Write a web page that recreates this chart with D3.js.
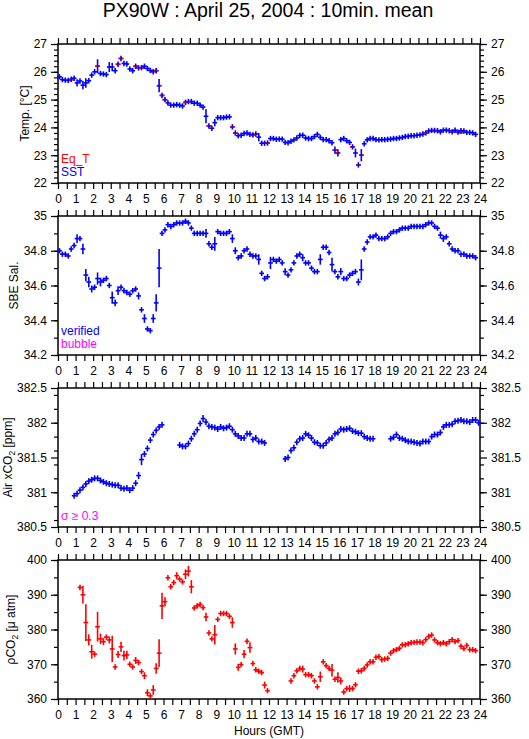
<!DOCTYPE html>
<html>
<head>
<meta charset="utf-8">
<script src="https://cdn.jsdelivr.net/npm/d3@7"></script>
<style>
  body { margin: 0; background: #fff; }
  svg { display: block; font-family: "Liberation Sans", Arial, Helvetica, sans-serif; }
  .tick text { font-size: 12px; fill: #000; }
  .tick line { stroke: #000; stroke-width: 1.2; }
  .domain { display: none; }
</style>
</head>
<body>
<div id="chart"></div>
<script>
// 10 minute means: slot i covers minutes i*10 .. i*10+10 of the day (GMT)
var hourTicks = [0, 1, 2, 3, 4, 5, 6, 7, 8, 9, 10, 11, 12, 13, 14, 15, 16, 17, 18, 19, 20, 21, 22, 23, 24];

var tempTicks = [22, 23, 24, 25, 26, 27];
var salTicks = [34.2, 34.4, 34.6, 34.8, 35];
var airTicks = [380.5, 381, 381.5, 382, 382.5];
var pco2Ticks = [360, 370, 380, 390, 400];

// SST, one value per slot
var sst = [
  25.82, 25.72, 25.70, 25.69, 25.73, 25.77,
  25.60, 25.67, 25.52, 25.60, 25.68, 25.88,
  26.00, 26.20, 25.94, 25.92, 25.90, 26.17,
  26.17, 26.04, 26.27, 26.48, 26.30, 26.28,
  26.10, 26.04, 26.20, 26.14, 26.15, 26.20,
  26.12, 26.05, 26.00, 26.04, 25.50, 25.15,
  25.00, 24.88, 24.80, 24.80, 24.82, 24.80,
  24.77, 24.90, 24.93, 24.93, 24.87, 24.87,
  24.80, 24.73, 24.40, 24.05, 23.97, 24.17,
  24.35, 24.35, 24.35, 24.37, 24.38, 24.02,
  23.80, 23.70, 23.72, 23.78, 23.80, 23.75,
  23.73, 23.76, 23.65, 23.43, 23.43, 23.44,
  23.60, 23.60, 23.57, 23.58, 23.58, 23.46,
  23.45, 23.50, 23.55, 23.62, 23.71, 23.72,
  23.62, 23.60, 23.60, 23.67, 23.75, 23.64,
  23.56, 23.56, 23.52, 23.45, 23.18, 23.08,
  23.56, 23.60, 23.52, 23.46, 23.30, 23.08,
  22.65, 23.00, 23.41, 23.55, 23.60, 23.60,
  23.56, 23.55, 23.56, 23.56, 23.57, 23.58,
  23.60, 23.60, 23.62, 23.64, 23.67, 23.68,
  23.70, 23.70, 23.72, 23.73, 23.76, 23.80,
  23.87, 23.89, 23.89, 23.88, 23.84, 23.90,
  23.90, 23.88, 23.84, 23.90, 23.83, 23.88,
  23.87, 23.82, 23.82, 23.80, 23.75, null
];
// [slot, standard deviation] where the bar is taller than the marker
var sstSpread = [
  [6, 0.13], [8, 0.15], [9, 0.17], [12, 0.1], [13, 0.25], [17, 0.18], [18, 0.15],
  [21, 0.08], [22, 0.08], [34, 0.24], [35, 0.1], [50, 0.25], [53, 0.13], [68, 0.15],
  [94, 0.13], [95, 0.13], [101, 0.16], [102, 0.08], [103, 0.22]
];
// equilibrator temperature, where it shows apart from SST: [slot, value]
var eqT = [
  [4, 25.71], [13, 26.20], [20, 26.27], [21, 26.48], [26, 26.19], [27, 26.14],
  [28, 26.14], [33, 26.04], [34, 25.50], [35, 25.15], [36, 24.99], [43, 24.90],
  [44, 24.92], [51, 24.05], [59, 24.02], [60, 23.80], [67, 23.76], [71, 23.44],
  [94, 23.18], [95, 23.07], [100, 23.30], [102, 22.64], [103, 23.00], [125, 23.80],
  [128, 23.87], [134, 23.84], [137, 23.80]
];

var salinity = [
  34.80, 34.78, 34.78, 34.77, 34.81, 34.83,
  34.87, 34.87, 34.81, 34.66, 34.62, 34.58,
  34.59, 34.64, 34.62, 34.63, 34.64, 34.60,
  34.53, 34.50, 34.57, 34.59, 34.57, 34.56,
  34.55, 34.57, 34.58, 34.54, 34.46, 34.41,
  34.35, 34.34, 34.41, 34.50, 34.70, 34.90,
  34.92, 34.95, 34.94, 34.95, 34.96, 34.96,
  34.96, 34.97, 34.96, 34.93, 34.90, 34.90,
  34.90, 34.90, 34.90, 34.84, 34.82, 34.84,
  34.91, 34.90, 34.90, 34.90, 34.91, 34.87,
  34.80, 34.76, 34.77, 34.80, 34.81, 34.78,
  34.77, 34.77, 34.75, 34.67, 34.64, 34.65,
  34.73, 34.75, 34.74, 34.75, 34.73, 34.68,
  34.66, 34.69, 34.73, 34.77, 34.78, 34.76,
  34.73, 34.73, 34.70, 34.68, 34.68, 34.75,
  34.82, 34.82, 34.79, 34.72, 34.68, 34.65,
  34.68, 34.64, 34.64, 34.66, 34.67, 34.68,
  34.62, 34.69, 34.81, 34.85, 34.88, 34.88,
  34.89, 34.87, 34.87, 34.87, 34.88, 34.90,
  34.91, 34.91, 34.92, 34.93, 34.93, 34.93,
  34.94, 34.94, 34.94, 34.94, 34.94, 34.95,
  34.96, 34.96, 34.94, 34.93, 34.89, 34.87,
  34.88, 34.84, 34.81, 34.80, 34.80, 34.78,
  34.78, 34.77, 34.77, 34.77, 34.76, null
];
var salSpread = [
  [6, 0.025], [8, 0.03], [9, 0.035], [10, 0.03], [11, 0.02], [13, 0.035], [14, 0.025],
  [18, 0.035], [19, 0.02], [20, 0.025], [27, 0.02], [29, 0.025], [32, 0.025], [33, 0.05],
  [34, 0.11], [50, 0.025], [53, 0.04], [59, 0.025], [60, 0.02], [68, 0.03], [72, 0.035],
  [77, 0.02], [83, 0.02], [89, 0.03], [93, 0.04], [96, 0.02], [102, 0.02], [103, 0.06],
  [130, 0.02], [131, 0.02]
];

var airXco2 = [
  null, null, null, null, null, 380.95,
  380.98, 381.03, 381.07, 381.12, 381.16, 381.18,
  381.20, 381.20, 381.17, 381.15, 381.13, 381.12,
  381.11, 381.10, 381.10, 381.06, 381.05, 381.06,
  381.03, 381.06, 381.13, 381.24, 381.47, 381.55,
  381.63, 381.75, 381.83, 381.89, 381.94, 381.97,
  null, null, null, null, null, 381.68,
  381.66, 381.66, 381.70, 381.77, 381.84, 381.90,
  381.99, 382.06, 382.01, 381.95, 381.94, 381.93,
  381.91, 381.94, 381.92, 381.93, 381.95, 381.90,
  381.84, 381.81, 381.78, 381.78, 381.84, 381.84,
  381.76, 381.78, 381.73, 381.73, 381.71, null,
  null, null, null, null, null, 381.48,
  381.50, 381.60, 381.64, 381.72, 381.77, 381.78,
  381.84, 381.82, 381.78, 381.72, 381.71, 381.67,
  381.67, 381.71, 381.76, 381.78, 381.84, 381.86,
  381.91, 381.90, 381.91, 381.92, 381.88, 381.87,
  381.85, 381.85, 381.80, 381.78, 381.77, 381.77,
  null, null, null, null, null, 381.77,
  381.79, 381.83, 381.78, 381.77, 381.75, 381.73,
  381.73, 381.72, 381.71, 381.70, 381.73, 381.73,
  381.73, 381.80, 381.83, 381.83, 381.86, 381.94,
  381.97, 381.97, 381.98, 382.02, 382.03, 382.04,
  382.02, 382.02, 382.01, 382.04, 382.04, 382.00
];
var airSpread = [[27, 0.05], [28, 0.08], [49, 0.05]];

var pco2 = [
  null, null, null, null, null, null,
  null, 392.1, 390.0, 382.0, 377.0, 373.6,
  372.9, 380.8, 377.3, 376.5, 377.8, 377.0,
  374.4, 369.2, 372.8, 375.0, 372.5, 372.7,
  370.0, 369.2, 371.1, 370.5, 367.9, 366.7,
  361.8, 360.9, 362.6, 368.8, 373.2, 386.8,
  388.0, 394.9, 392.3, 393.5, 395.5, 394.5,
  393.7, 395.9, 396.8, 392.3, 386.2, 386.8,
  387.2, 386.3, 383.6, 379.0, 377.3, 378.5,
  382.9, 384.6, 384.6, 384.6, 383.8, 382.0,
  374.4, 369.1, 369.9, 372.9, 376.6, 374.8,
  370.2, 368.4, 368.0, 367.6, 364.0, 362.4,
  null, null, null, null, null, null,
  null, 365.2, 366.7, 368.1, 368.8, 368.6,
  367.0, 367.0, 366.7, 365.2, 363.5, 366.4,
  370.7, 369.6, 368.8, 368.3, 365.7, 366.2,
  365.2, 362.0, 363.0, 363.0, 363.0, 364.1,
  368.0, 368.1, 368.8, 369.8, 370.7, 370.7,
  372.0, 372.2, 371.3, 371.5, 371.7, 373.2,
  373.9, 374.2, 374.6, 375.6, 375.6, 375.9,
  376.2, 376.3, 376.4, 376.4, 376.2, 377.1,
  378.0, 378.4, 377.0, 376.2, 375.9, 376.2,
  375.9, 376.5, 377.1, 376.5, 376.8, 375.2,
  374.5, 375.4, 374.2, 374.2, 373.9, null
];
var pco2Spread = [
  [7, 0.7], [8, 2.5], [9, 5.3], [10, 1.6], [11, 2], [13, 4.3], [14, 1.5], [15, 1],
  [17, 1], [18, 3.8], [20, 1], [21, 1.5], [22, 1.4], [23, 1.2], [26, 1], [29, 1],
  [30, 1], [32, 1.4], [33, 1.5], [34, 4], [35, 3.8], [36, 1.3], [37, 0.8], [40, 1],
  [43, 1.4], [44, 1.5], [45, 1.9], [50, 1.2], [53, 2.8], [59, 1.5], [60, 1.6], [61, 1],
  [63, 1.2], [65, 1.5], [70, 1], [81, 0.6], [83, 1], [89, 1.5], [91, 0.5], [93, 1.8],
  [95, 1.5], [96, 1], [99, 1], [101, 0.6], [102, 0.8], [103, 0.8], [137, 0.8], [139, 0.7]
];

var width = 529, height = 739;
var left = 58, right = 480;
var blue = "#0000ff", red = "#ff0000", magenta = "#ff00ff";

var svg = d3.select("#chart").append("svg")
    .attr("width", width)
    .attr("height", height);

svg.append("rect").attr("width", width).attr("height", height).attr("fill", "#fff");

svg.append("text")
    .attr("x", 268)
    .attr("y", 17)
    .attr("text-anchor", "middle")
    .style("font-size", "19.5px")
    .text("PX90W : April 25, 2004 : 10min. mean");

var x = d3.scaleLinear().domain([0, 24]).range([left, right]);

function toPoints(values, spread) {
    var sd = new Map(spread);
    var pts = [];
    values.forEach(function (v, i) {
        if (v != null) pts.push({ slot: i, value: v, sd: sd.get(i) || 0 });
    });
    return pts;
}

var panels = [
    { top: 44, bottom: 183, domain: [22, 27], ticks: tempTicks, minorCount: 25,
      title: [["Temp. [°C]"]], titleX: 29,
      layers: [
          { pts: toPoints(sst, sstSpread), color: blue, part: "h" },
          { pts: eqT.map(function (d) { return { slot: d[0], value: d[1], sd: 0 } }), color: red, part: "h" },
          { pts: toPoints(sst, sstSpread), color: blue, part: "v" }
      ],
      legend: [["Eq_T", red], ["SST", blue]] },
    { top: 216, bottom: 355, domain: [34.2, 35], ticks: salTicks, minorCount: 8,
      title: [["SBE Sal."]], titleX: 18,
      layers: [
          { pts: toPoints(salinity, salSpread), color: blue, part: "hv" }
      ],
      legend: [["verified", blue], ["bubble", magenta]] },
    { top: 388, bottom: 527, domain: [380.5, 382.5], ticks: airTicks, minorCount: 8,
      title: [["Air xCO"], ["2", "sub"], [" [ppm]"]], titleX: 12,
      layers: [
          { pts: toPoints(airXco2, airSpread), color: blue, part: "hv", minHalf: 3 }
      ],
      legend: [["σ ≥ 0.3", magenta]] },
    { top: 560, bottom: 699, domain: [360, 400], ticks: pco2Ticks, minorCount: 8,
      title: [["ρCO"], ["2", "sub"], [" [μ atm]"]], titleX: 15,
      layers: [
          { pts: toPoints(pco2, pco2Spread), color: red, part: "hv" }
      ],
      legend: [] }
];

panels.forEach(function (p) {
    var y = d3.scaleLinear().domain(p.domain).range([p.bottom, p.top]);
    var g = svg.append("g");
    var minor = d3.ticks(p.domain[0], p.domain[1], p.minorCount);

    // x axes: half hour ticks on top and bottom, hour labels below
    var halfHours = d3.range(0.5, 24, 1);
    g.append("g").attr("transform", "translate(0," + p.top + ")")
        .call(d3.axisTop(x).tickValues(hourTicks.concat(halfHours)).tickSize(6).tickFormat(""));
    g.append("g").attr("transform", "translate(0," + p.bottom + ")")
        .call(d3.axisBottom(x).tickValues(halfHours).tickSize(6).tickFormat(""));
    g.append("g").attr("transform", "translate(0," + p.bottom + ")")
        .call(d3.axisBottom(x).tickValues(hourTicks).tickSize(6).tickPadding(5.5).tickFormat(d3.format("d")));

    // y axes both sides
    g.append("g").attr("transform", "translate(" + left + ",0)")
        .call(d3.axisLeft(y).tickValues(minor).tickSize(4).tickFormat(""));
    g.append("g").attr("transform", "translate(" + left + ",0)")
        .call(d3.axisLeft(y).tickValues(p.ticks).tickSize(7).tickPadding(4).tickFormat(d3.format("~g")));
    g.append("g").attr("transform", "translate(" + right + ",0)")
        .call(d3.axisRight(y).tickValues(minor).tickSize(4).tickFormat(""));
    g.append("g").attr("transform", "translate(" + right + ",0)")
        .call(d3.axisRight(y).tickValues(p.ticks).tickSize(7).tickPadding(4).tickFormat(d3.format("~g")));

    g.append("rect")
        .attr("x", left).attr("y", p.top)
        .attr("width", right - left).attr("height", p.bottom - p.top)
        .attr("fill", "none").attr("stroke", "#000").attr("stroke-width", 1.5);

    // the 10 min crosses
    p.layers.forEach(function (layer) {
        var minHalf = layer.minHalf || 2.7;
        if (layer.part.indexOf("h") >= 0) {
            g.append("g").selectAll("line")
                .data(layer.pts)
                .enter().append("line")
                .attr("x1", function (d) { return x(d.slot / 6) - 0.9 })
                .attr("x2", function (d) { return x((d.slot + 1) / 6) + 0.9 })
                .attr("y1", function (d) { return y(d.value) })
                .attr("y2", function (d) { return y(d.value) })
                .attr("stroke", layer.color)
                .attr("stroke-width", 1.6);
        }
        if (layer.part.indexOf("v") >= 0) {
            g.append("g").selectAll("line")
                .data(layer.pts)
                .enter().append("line")
                .attr("x1", function (d) { return x((d.slot + 0.5) / 6) })
                .attr("x2", function (d) { return x((d.slot + 0.5) / 6) })
                .attr("y1", function (d) { return Math.min(y(d.value + d.sd), y(d.value) - minHalf) })
                .attr("y2", function (d) { return Math.max(y(d.value - d.sd), y(d.value) + minHalf) })
                .attr("stroke", layer.color)
                .attr("stroke-width", 1.6);
        }
    });

    // axis title
    var t = g.append("text")
        .attr("transform", "translate(" + p.titleX + "," + ((p.top + p.bottom) / 2) + ") rotate(-90)")
        .attr("text-anchor", "middle")
        .style("font-size", "12px");
    p.title.forEach(function (part) {
        var s = t.append("tspan").text(part[0]);
        if (part[1] == "sub") s.style("font-size", "8.5px").attr("dy", 2.5);
        else if (t.selectAll("tspan").size() > 1) s.attr("dy", -2.5);
    });

    // legend in lower left corner
    p.legend.forEach(function (d, i) {
        g.append("text")
            .attr("x", 61)
            .attr("y", p.bottom - 7 - (p.legend.length - 1 - i) * 13.5)
            .attr("fill", d[1])
            .style("font-size", "12px")
            .text(d[0]);
    });
});

svg.append("text")
    .attr("x", 269)
    .attr("y", 735)
    .attr("text-anchor", "middle")
    .style("font-size", "12px")
    .text("Hours (GMT)");
</script>
</body>
</html>
